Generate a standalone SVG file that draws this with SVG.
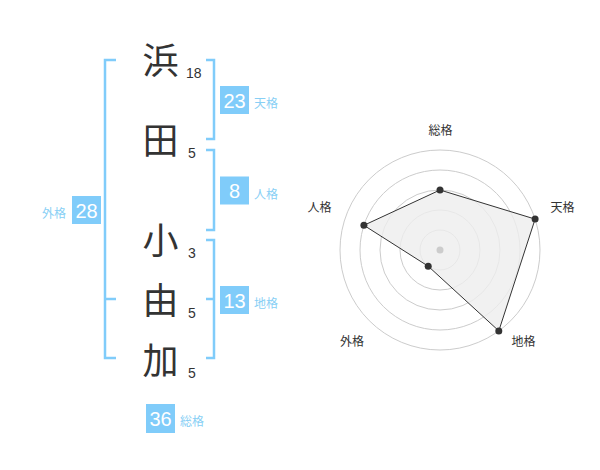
<svg xmlns="http://www.w3.org/2000/svg" width="600" height="470" viewBox="0 0 600 470">
<style>
.k{font-family:"Noto Sans CJK JP","Noto Sans CJK SC",sans-serif;font-size:36px;fill:#333;text-anchor:middle}
.n{font-family:"Liberation Sans",Arial,sans-serif;font-size:14px;fill:#333}
.br{fill:none;stroke:#80ccfa;stroke-width:2.5}
.bx{fill:#80ccfa}
.bt{font-family:"Liberation Sans",Arial,sans-serif;font-size:20px;fill:#fff;text-anchor:middle}
.lb{font-family:"Noto Sans CJK JP","Noto Sans CJK SC",sans-serif;font-size:12px;fill:#88cff5}
.ax{font-family:"Noto Sans CJK JP","Noto Sans CJK SC",sans-serif;font-size:12px;fill:#333;text-anchor:middle}
.ring{fill:none;stroke:#cccccc;stroke-width:1}
.pt{fill:#333}
</style>
<rect width="600" height="470" fill="#fff"/>
<g id="chars">
<g id="c1"><text class="k" x="160.5" y="74">浜</text><text class="n" x="186" y="78">18</text></g>
<g id="c2"><text class="k" x="160.5" y="154">田</text><text class="n" x="188" y="158">5</text></g>
<g id="c3"><text class="k" x="160.5" y="254">小</text><text class="n" x="188" y="258">3</text></g>
<g id="c4"><text class="k" x="160.5" y="314">由</text><text class="n" x="188" y="318">5</text></g>
<g id="c5"><text class="k" x="160.5" y="374">加</text><text class="n" x="188" y="378">5</text></g>
</g>
<g id="connectors">
<path class="br" d="M116,60 H105 V358 H116 M105,299 H116"/>
<path class="br" d="M206,60 H214 V139 H206"/>
<path class="br" d="M206,150 H214 V230 H206"/>
<path class="br" d="M206,240 H214 V358 H206 M214,299 H206"/>
</g>
<g id="tenkaku"><rect class="bx" x="220" y="86" width="29" height="28"/><text class="bt" x="234.5" y="107.5">23</text><text class="lb" x="254" y="108">天格</text></g>
<g id="jinkaku"><rect class="bx" x="220" y="176.5" width="29" height="28"/><text class="bt" x="234.5" y="198">8</text><text class="lb" x="254" y="198.5">人格</text></g>
<g id="chikaku"><rect class="bx" x="220" y="286" width="29" height="28"/><text class="bt" x="234.5" y="307.5">13</text><text class="lb" x="254" y="308">地格</text></g>
<g id="gaikaku"><rect class="bx" x="72" y="196" width="29" height="28"/><text class="bt" x="86.5" y="217.5">28</text><text class="lb" x="66" y="218" text-anchor="end">外格</text></g>
<g id="soukaku"><rect class="bx" x="146" y="404" width="29" height="29"/><text class="bt" x="160.5" y="425.5">36</text><text class="lb" x="180" y="426">総格</text></g>
<g id="radar">
<circle class="ring" cx="440" cy="250" r="20"/>
<circle class="ring" cx="440" cy="250" r="40"/>
<circle class="ring" cx="440" cy="250" r="60"/>
<circle class="ring" cx="440" cy="250" r="80"/>
<circle class="ring" cx="440" cy="250" r="100"/>
<polygon points="440,190 535.1,219.1 498.8,330.9 428.2,266.2 363.9,225.3" fill="#eeeeee" fill-opacity="0.8" stroke="#333" stroke-width="1"/>
<circle cx="440" cy="250" r="3.5" fill="#cccccc"/>
<circle class="pt" cx="440" cy="190" r="3.5"/>
<circle class="pt" cx="535.1" cy="219.1" r="3.5"/>
<circle class="pt" cx="498.8" cy="330.9" r="3.5"/>
<circle class="pt" cx="428.2" cy="266.2" r="3.5"/>
<circle class="pt" cx="363.9" cy="225.3" r="3.5"/>
<text class="ax" x="440.5" y="135">総格</text>
<text class="ax" x="562.5" y="212">天格</text>
<text class="ax" x="523.5" y="346">地格</text>
<text class="ax" x="352" y="346">外格</text>
<text class="ax" x="319.5" y="212">人格</text>
</g>
</svg>
